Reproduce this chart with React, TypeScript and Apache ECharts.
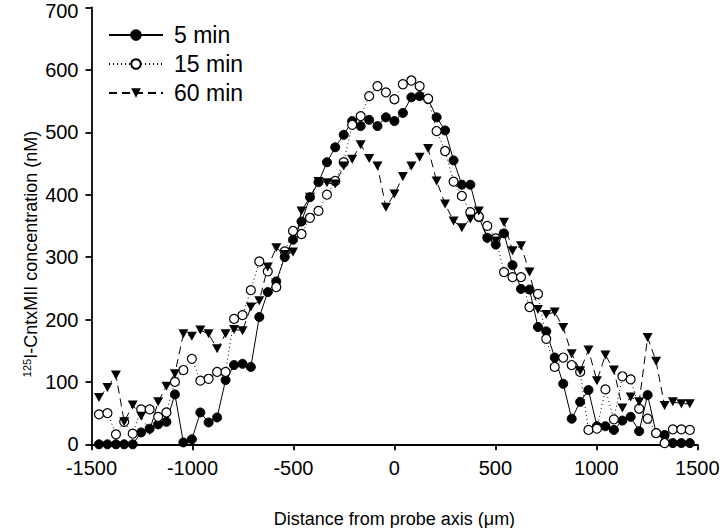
import React, { useEffect, useRef } from "react";
import * as echarts from "echarts";

const distances = [-1463, -1421, -1379, -1338, -1296, -1254, -1212, -1170, -1129, -1087, -1045, -1003, -961, -920, -878, -836, -794, -752, -711, -669, -627, -585, -543, -502, -460, -418, -376, -334, -293, -251, -209, -167, -125, -84, -42, 0, 42, 84, 125, 167, 209, 251, 293, 334, 376, 418, 460, 502, 543, 585, 627, 669, 711, 752, 794, 836, 878, 920, 961, 1003, 1045, 1087, 1129, 1170, 1212, 1254, 1296, 1338, 1379, 1421, 1463];

const conc5min = [0, 0, 0, 0, 0, 19, 25, 32, 36, 80, 3, 8, 51, 35, 43, 103, 127, 129, 124, 204, 244, 261, 300, 328, 357, 396, 420, 452, 476, 496, 518, 510, 520, 510, 524, 518, 531, 556, 558, 553, 524, 503, 455, 416, 416, 364, 331, 320, 338, 287, 249, 248, 188, 181, 139, 97, 41, 68, 87, 29, 29, 23, 38, 44, 21, 79, 18, 15, 2, 2, 2];

const conc15min = [48, 50, 16, 36, 17, 56, 56, 44, 51, 100, 119, 137, 102, 105, 116, 116, 201, 207, 247, 293, 277, 252, 309, 342, 337, 363, 374, 400, 422, 452, 512, 526, 558, 574, 564, 553, 577, 583, 574, 554, 502, 470, 421, 398, 372, 365, 350, 330, 276, 268, 268, 220, 241, 169, 124, 139, 127, 116, 23, 25, 88, 40, 109, 104, 57, 41, 18, 2, 24, 24, 23];

const conc60min = [75, 91, 111, 36, 63, 45, 22, 68, 93, 113, 177, 173, 183, 177, 153, 177, 184, 182, 220, 230, 284, 315, 304, 308, 374, 396, 421, 419, 417, 446, 457, 480, 458, 446, 380, 401, 429, 446, 460, 474, 422, 385, 358, 347, 361, 374, 329, 326, 356, 310, 318, 276, 216, 208, 212, 187, 145, 118, 151, 102, 143, 119, 58, 76, 68, 171, 133, 62, 68, 65, 65];

const seriesNames = ["5 min", "15 min", "60 min"];
const xTicks = { min: -1500, max: 1500, interval: 500 };
const yTicks = { min: 0, max: 700, interval: 100 };

const FONT = "'Liberation Sans', Arial, sans-serif";

function zip(xs: number[], ys: number[]) {
  return xs.map((x, i) => [x, ys[i]]);
}

export default function App() {
  const ref = useRef<HTMLDivElement>(null);
  useEffect(() => {
    if (!ref.current) return;
    const chart = echarts.init(ref.current, undefined, { renderer: "svg" });
    const axisCommon = {
      axisLine: { show: true, onZero: false, lineStyle: { color: "#000", width: 1.8 } },
      axisTick: { show: true, inside: false, length: 6, lineStyle: { color: "#000", width: 1.8 } },
      splitLine: { show: false },
    };
    chart.setOption({
      animation: false,
      backgroundColor: "#fff",
      textStyle: { fontFamily: FONT },
      grid: { left: 91.5, right: 22.7, top: 7.5, bottom: 83.7, containLabel: false, outerBoundsMode: "none" },
      legend: {
        orient: "vertical",
        left: 103,
        top: 18.5,
        itemWidth: 54,
        itemHeight: 12,
        itemGap: 6,
        textStyle: { fontFamily: FONT, fontSize: 23, color: "#000", padding: [0, 0, 0, 6] },
        data: seriesNames,
      },
      xAxis: {
        type: "value",
        ...xTicks,
        ...axisCommon,
        axisLabel: { color: "#000", fontSize: 20, fontFamily: FONT, margin: 14, formatter: (v: number) => String(v) },
        name: "Distance from probe axis (μm)",
        nameLocation: "middle",
        nameGap: 66,
        nameTextStyle: { color: "#000", fontSize: 18, fontFamily: FONT },
      },
      yAxis: {
        type: "value",
        ...yTicks,
        ...axisCommon,
        axisLabel: {
          color: "#000",
          fontSize: 20,
          fontFamily: FONT,
          margin: 13,
          formatter: (v: number) => (v === yTicks.max ? `{top|${v}}` : String(v)),
          rich: {
            top: { color: "#000", fontSize: 20, fontFamily: FONT, padding: [6, 0, 0, 0] },
          },
        },
      },
      graphic: [
        {
          type: "text",
          x: 31,
          y: 254,
          rotation: Math.PI / 2,
          style: {
            text: "{sup|125}I-CntxMII concentration (nM)",
            font: `18px ${FONT}`,
            fill: "#000",
            align: "center",
            verticalAlign: "middle",
            rich: {
              sup: { fontSize: 11, fontFamily: FONT, fill: "#000", verticalAlign: "top", padding: [0, 0, 8, 0] },
            },
          },
        },
      ],
      series: [
        {
          name: seriesNames[0],
          type: "line",
          data: zip(distances, conc5min),
          symbol: "circle",
          symbolSize: 9,
          showAllSymbol: true,
          lineStyle: { color: "#000", width: 1, type: "solid" },
          itemStyle: { color: "#000", borderColor: "#000", borderWidth: 1 },
        },
        {
          name: seriesNames[1],
          type: "line",
          data: zip(distances, conc15min),
          symbol: "circle",
          symbolSize: 9,
          showAllSymbol: true,
          lineStyle: { color: "#000", width: 1, type: [1, 3] },
          itemStyle: { color: "#fff", borderColor: "#000", borderWidth: 1.2 },
        },
        {
          name: seriesNames[2],
          type: "line",
          data: zip(distances, conc60min),
          symbol: "triangle",
          symbolSize: [10, 9],
          symbolRotate: 180,
          showAllSymbol: true,
          lineStyle: { color: "#000", width: 1, type: [8, 5] },
          itemStyle: { color: "#000", borderColor: "#000", borderWidth: 0 },
        },
      ],
    });
    return () => chart.dispose();
  }, []);
  return <div ref={ref} style={{ position: "fixed", left: 0, top: 0, width: 720, height: 528 }} />;
}
